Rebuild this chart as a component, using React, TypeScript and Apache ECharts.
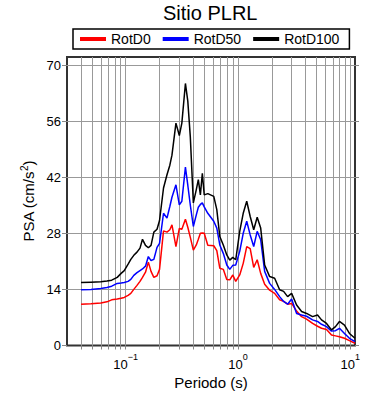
import React, { useEffect, useRef } from 'react';
import * as echarts from 'echarts';

const periods = [0.04, 0.049, 0.06, 0.068, 0.075, 0.084, 0.091, 0.097, 0.105, 0.111,
  0.118, 0.126, 0.134, 0.141, 0.15, 0.159, 0.168, 0.178, 0.19, 0.2,
  0.217, 0.233, 0.247, 0.258, 0.28, 0.3, 0.316, 0.34, 0.357, 0.376,
  0.4, 0.425, 0.443, 0.462, 0.481, 0.5, 0.538, 0.608, 0.647, 0.688,
  0.739, 0.794, 0.844, 0.898, 0.954, 1.035, 1.112, 1.195, 1.283, 1.379,
  1.481, 1.591, 1.726, 1.912, 2.118, 2.346, 2.546, 2.763, 3.0, 3.322,
  3.68, 4.076, 4.608, 5.104, 5.538, 6.135, 6.795, 7.373, 8.0, 8.864,
  9.817, 11];

const rotD0 = [10.3, 10.4, 10.6, 10.9, 11.4, 11.6, 11.8, 12.0, 12.5, 13.0,
  14.0, 15.0, 16.0, 17.0, 18.3, 20.8, 18.5, 17.0, 17.4, 19.0,
  28.6, 28.3, 28.9, 30.1, 24.7, 29.2, 29.0, 31.5, 29.5, 27.0,
  23.8, 25.1, 26.5, 28.0, 28.1, 28.0, 25.0, 24.9, 23.7, 19.3,
  19.0, 16.5, 16.4, 17.6, 16.0, 17.6, 20.5, 24.7, 24.2, 19.5,
  21.4, 18.0, 15.3, 13.8, 13.0, 11.4, 11.0, 10.3, 10.5, 8.6,
  7.2, 6.6, 5.5, 4.8, 4.3, 4.0, 2.6, 2.4, 2.2, 1.8,
  1.2, 0.55];

const rotD50 = [13.9, 14.0, 14.2, 14.5, 14.8, 15.5, 15.6, 15.7, 16.0, 16.5,
  17.5, 18.2, 18.7, 19.1, 19.8, 22.2, 21.2, 21.5, 24.5, 25.5,
  33.0, 31.8, 34.7, 37.0, 40.1, 35.1, 36.0, 44.5, 40.0, 35.0,
  29.7, 32.6, 34.5, 35.2, 35.6, 34.6, 33.0, 31.0, 29.3, 25.1,
  23.0, 20.1, 19.0, 20.0, 20.1, 23.5, 28.0, 31.0, 27.6, 24.7,
  28.5, 26.4, 18.5, 15.5, 14.0, 12.2, 11.0, 10.3, 11.6, 8.0,
  7.6, 7.3, 6.4, 6.0, 5.3, 4.7, 3.6, 3.7, 4.3, 3.0,
  1.8, 0.95];

const rotD100 = [15.7, 15.8, 15.9, 16.1, 16.3, 17.0, 18.0, 18.7, 20.3, 21.5,
  22.5, 23.3, 24.3, 26.5, 25.0, 24.4, 25.0, 28.3, 29.0, 31.2,
  39.3, 42.6, 45.0, 47.5, 55.5, 52.4, 55.5, 65.4, 61.0, 52.0,
  35.6, 38.9, 41.4, 37.6, 43.0, 37.6, 37.9, 37.2, 33.9, 27.2,
  25.1, 22.6, 21.3, 22.0, 21.4, 28.5, 33.0, 36.0, 32.2, 28.9,
  32.0, 29.3, 20.1, 17.2, 16.8, 13.9, 13.5, 12.2, 13.0, 10.1,
  8.5, 8.0, 7.2, 7.6, 6.4, 5.5, 3.9, 4.7, 6.0, 5.1,
  3.0, 1.8];

const seriesNames = ['RotD0', 'RotD50', 'RotD100'];
const seriesColors = ['#ff0000', '#0000ff', '#000000'];
const gridPeriods = [0.04, 0.05, 0.06, 0.07, 0.08, 0.09, 0.1,
  0.2, 0.3, 0.4, 0.5, 0.6, 0.7, 0.8, 0.9, 1,
  2, 3, 4, 5, 6, 7, 8, 9, 10];
const yTickValues = [0, 14, 28, 42, 56, 70];

const FONT = '"Liberation Sans", Arial, Helvetica, sans-serif';

export default function App() {
  const ref = useRef<HTMLDivElement>(null);
  useEffect(() => {
    const chart = echarts.init(ref.current as HTMLDivElement, null, { renderer: 'svg' });
    const pairs = (vals: number[]) => periods.map((p, i) => [p, vals[i]]);
    const allValues = [rotD0, rotD50, rotD100];
    const supFmt = (v: number) => {
      const l = Math.log10(v);
      const e = Math.round(l);
      if (Math.abs(l - e) > 1e-6) return '';
      const s = e < 0 ? '\u2212' + Math.abs(e) : String(e);
      return '{b|10}{sup|' + s + '}';
    };
    const gridLineStyle = { color: '#999', width: 1, type: 'solid' };
    chart.setOption({
      animation: false,
      textStyle: { fontFamily: FONT },
      title: {
        text: 'Sitio PLRL', left: 163, top: 3, padding: 0,
        textStyle: { fontSize: 20, fontWeight: 'normal', color: '#000', fontFamily: FONT },
      },
      legend: {
        data: seriesNames, left: 73, top: 29, icon: 'rect', itemWidth: 26, itemHeight: 4,
        itemGap: 12, borderColor: '#000', borderWidth: 1.5, borderRadius: 0,
        padding: [3, 10, 3, 7],
        textStyle: { fontSize: 14, color: '#000', fontFamily: FONT },
      },
      grid: {
        left: 67, right: 35, top: 57, bottom: 54.5, show: true,
        borderColor: '#333', borderWidth: 2, outerBoundsMode: 'none',
      },
      xAxis: [
        {
          type: 'log', logBase: 10, min: 0.03, max: 11,
          name: 'Periodo (s)', nameLocation: 'middle', nameGap: 27,
          nameTextStyle: { fontSize: 15, color: '#000', fontFamily: FONT },
          axisLine: { show: false },
          axisTick: { show: true, length: 4, customValues: gridPeriods, lineStyle: { color: '#888' } },
          axisLabel: {
            show: true, margin: 7, formatter: supFmt, showMinLabel: false, showMaxLabel: false,
            rich: {
              b: { fontSize: 13, color: '#000', fontFamily: FONT, lineHeight: 18, verticalAlign: 'bottom' },
              sup: { fontSize: 9, color: '#000', fontFamily: FONT, lineHeight: 18, verticalAlign: 'top' },
            },
          },
          splitLine: { show: false },
        },
        {
          type: 'log', logBase: 10, min: 0.03, max: 11, position: 'top',
          axisLine: { show: false },
          axisTick: { show: true, length: 3, customValues: gridPeriods, lineStyle: { color: '#888' } },
          axisLabel: { show: false },
          splitLine: { show: false },
        },
      ],
      yAxis: [
        {
          type: 'value', min: 0, max: 72, interval: 14,
          name: 'PSA (cm/s{sup|2})', nameLocation: 'middle', nameGap: 28,
          nameTextStyle: {
            fontSize: 15, color: '#000', fontFamily: FONT,
            rich: { sup: { fontSize: 10, color: '#000', fontFamily: FONT, verticalAlign: 'top', lineHeight: 18 } },
          },
          axisLine: { show: false },
          axisTick: { show: true, length: 5, customValues: yTickValues, lineStyle: { color: '#888' } },
          axisLabel: {
            fontSize: 13, color: '#000', margin: 6,
            customValues: yTickValues, fontFamily: FONT,
          },
          splitLine: { show: false },
        },
        {
          type: 'value', min: 0, max: 72, interval: 14, position: 'right',
          axisLine: { show: false },
          axisTick: { show: true, length: 4, customValues: yTickValues, lineStyle: { color: '#888' } },
          axisLabel: { show: false },
          splitLine: { show: false },
        },
      ],
      series: [
        {
          type: 'line', name: 'gridlines', data: [], xAxisIndex: 0, yAxisIndex: 0, silent: true,
          markLine: {
            silent: true, symbol: ['none', 'none'], label: { show: false }, animation: false,
            lineStyle: gridLineStyle,
            emphasis: { disabled: true },
            data: [
              ...gridPeriods.map((v) => ({ xAxis: v })),
              ...yTickValues.filter((v) => v > 0).map((v) => ({ yAxis: v })),
            ],
          },
        },
        ...seriesNames.map((n, i) => ({
          type: 'line', name: n, data: pairs(allValues[i]), xAxisIndex: 0, yAxisIndex: 0,
          showSymbol: false, symbol: 'none', z: 10,
          lineStyle: { color: seriesColors[i], width: 1.5 },
          itemStyle: { color: seriesColors[i] },
        })),
      ],
    });
    return () => chart.dispose();
  }, []);
  return <div ref={ref} style={{ position: 'absolute', left: 0, top: 0, width: 390, height: 400 }} />;
}
